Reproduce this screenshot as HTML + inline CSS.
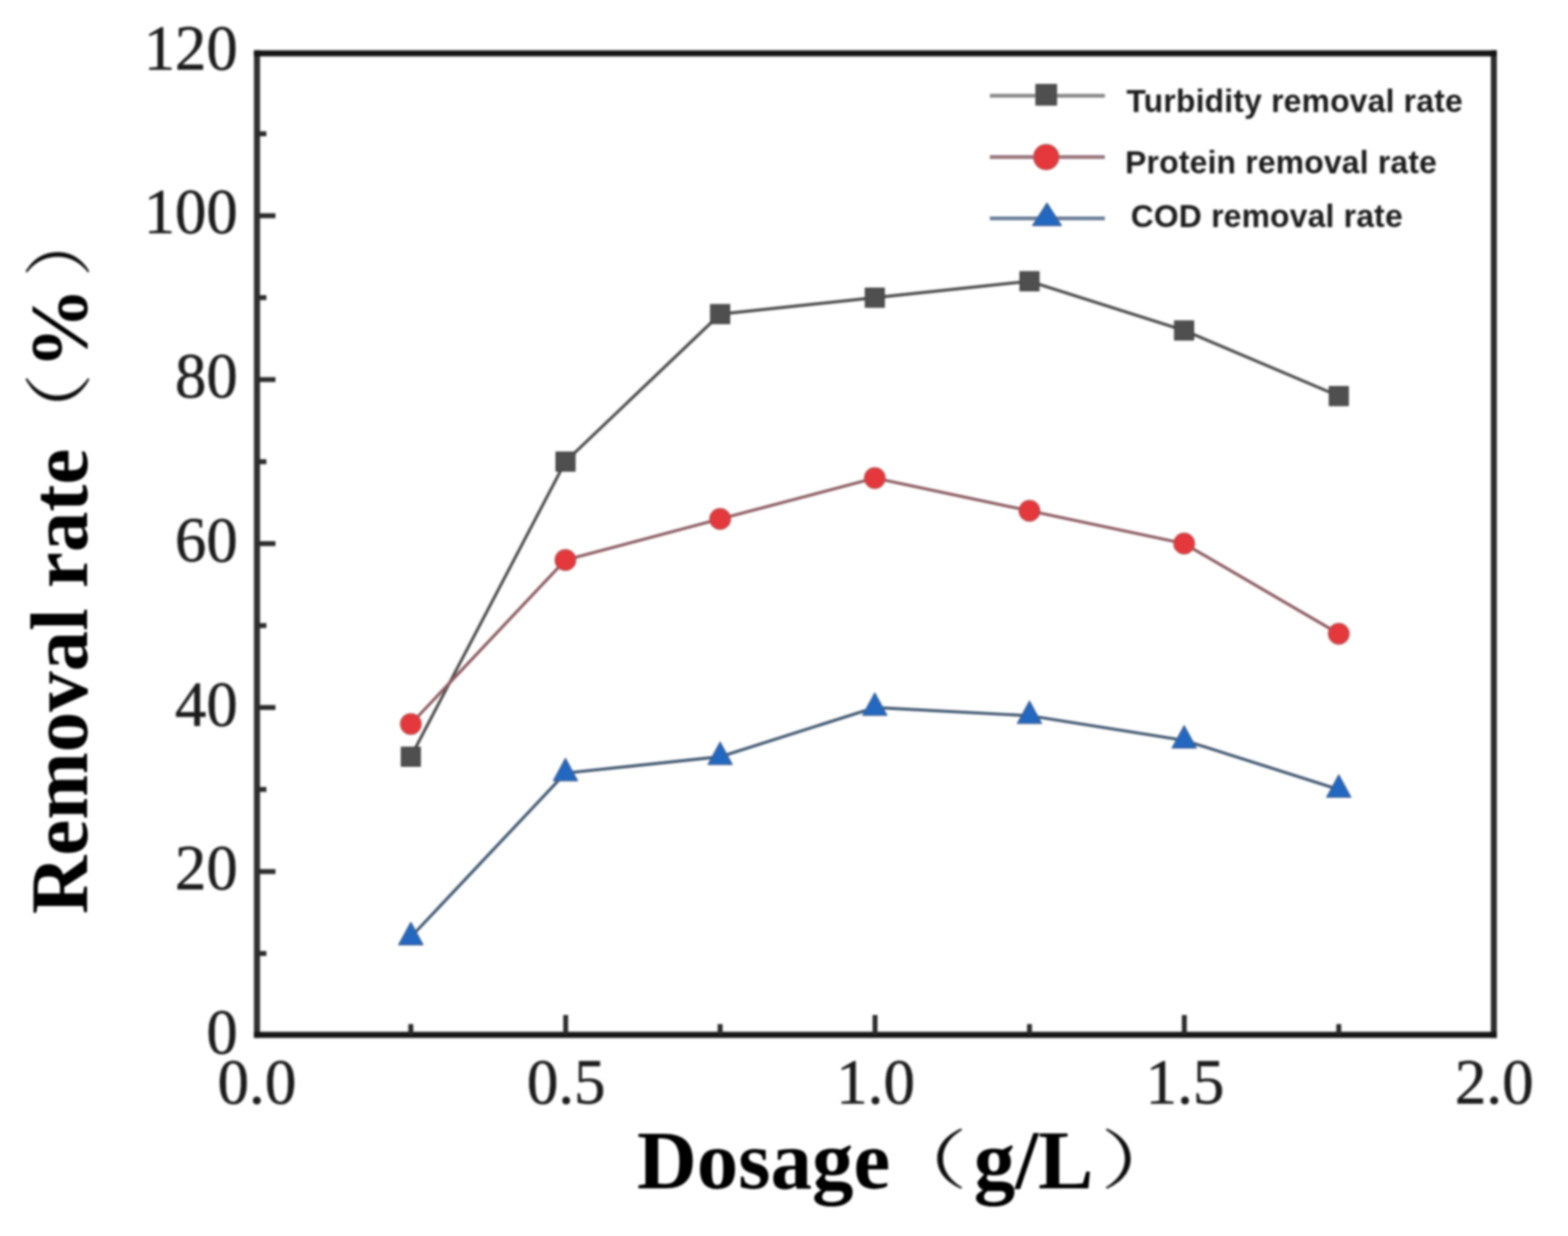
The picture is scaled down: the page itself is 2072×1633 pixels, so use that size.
<!DOCTYPE html>
<html><head><meta charset="utf-8"><title>Removal rate vs Dosage</title>
<style>
html,body{margin:0;padding:0;background:#fff;}
body{width:2072px;height:1633px;overflow:hidden;}
svg{display:block;}
.tick{font-family:"Liberation Serif","Noto Serif CJK SC",serif;font-size:84px;fill:#1e1e1e;stroke:#1e1e1e;stroke-width:0.7px;stroke-linejoin:round;}
.ttl{font-family:"Liberation Serif","Noto Serif CJK SC",serif;font-size:109.5px;font-weight:bold;fill:#050505;}
.cjk{font-family:"Noto Serif CJK SC","Liberation Serif",serif;font-weight:normal;font-size:88px;fill:#111;}
.leg{font-family:"Liberation Sans","Noto Sans CJK SC",sans-serif;font-size:42px;font-weight:bold;fill:#1c1c1c;letter-spacing:0.3px;}
.ttl2{font-size:107px;}
</style></head>
<body>
<svg width="2072" height="1633" viewBox="0 0 2072 1633">
<defs><filter id="soft" x="-5%" y="-5%" width="110%" height="110%"><feGaussianBlur stdDeviation="1.6"/></filter></defs>
<rect width="2072" height="1633" fill="#fff"/>
<g filter="url(#soft)">

<path d="M339.6 66.6V1371.3M1974.0 66.6V1371.3" stroke="#2e2e2e" stroke-width="8" fill="none"/>
<path d="M335.6 70.6H1978.0M335.6 1367.3H1978.0" stroke="#161616" stroke-width="8" fill="none"/>
<path d="M341 1151.4H364M341 934.8H364M341 718.2H364M341 501.6H364M341 285.0H364M341 1259.7H352M341 1043.1H352M341 826.5H352M341 609.9H352M341 393.3H352M341 176.7H352M747.5 1366V1341M1156.3 1366V1341M1565.0 1366V1341M542.9 1366V1353M951.6 1366V1353M1360.4 1366V1353M1769.1 1366V1353" stroke="#2b2b2b" stroke-width="6.5" fill="none"/>
<g class="tick" text-anchor="end">
<text transform="translate(314 1392.0) scale(0.985 1)">0</text>
<text transform="translate(314 1175.3) scale(0.985 1)">20</text>
<text transform="translate(314 958.5) scale(0.985 1)">40</text>
<text transform="translate(314 741.8) scale(0.985 1)">60</text>
<text transform="translate(314 525.0) scale(0.985 1)">80</text>
<text transform="translate(314 308.3) scale(0.985 1)">100</text>
<text transform="translate(314 91.5) scale(0.985 1)">120</text>
</g>
<g class="tick" text-anchor="middle">
<text transform="translate(339.5 1458) scale(0.99 1)">0.0</text>
<text transform="translate(748.2 1458) scale(0.99 1)">0.5</text>
<text transform="translate(1157.0 1458) scale(0.99 1)">1.0</text>
<text transform="translate(1565.8 1458) scale(0.99 1)">1.5</text>
<text transform="translate(1974.5 1458) scale(0.99 1)">2.0</text>
</g>
<text class="ttl" x="841.7" y="1570">Dosage</text>
<text class="ttl" x="1286.7" y="1570">g/L</text>
<text class="cjk" style="font-size:85px" transform="scale(1.36 1)" x="855.3" y="1563.5">（</text>
<text class="cjk" style="font-size:85px" transform="scale(1.36 1)" x="1068.9" y="1563.5">）</text>
<g transform="translate(115 1206) rotate(-90)">
<text class="ttl ttl2" x="-1.8" y="0">Removal rate</text>
<text class="ttl ttl2" x="719.0" y="0">%</text>
<text class="cjk" style="font-size:90px" transform="scale(1.17 1)" x="519.6" y="-5.5">（</text>
<text class="cjk" style="font-size:90px" transform="scale(1.05 1)" x="800.0" y="-5.5">）</text>
</g>
<polyline points="542.9,999.8 747.2,609.9 951.6,415.0 1156.0,393.3 1360.4,371.6 1564.8,436.6 1769.1,523.3" fill="none" stroke="#4a4a4a" stroke-width="3.9" stroke-linejoin="round"/>
<polyline points="542.9,956.5 747.2,739.9 951.6,685.7 1156.0,631.6 1360.4,674.9 1564.8,718.2 1769.1,837.3" fill="none" stroke="#8a5a60" stroke-width="3.9" stroke-linejoin="round"/>
<polyline points="542.9,1238.0 747.2,1021.4 951.6,999.8 1156.0,934.8 1360.4,945.6 1564.8,978.1 1769.1,1043.1" fill="none" stroke="#3f5670" stroke-width="3.9" stroke-linejoin="round"/>
<rect x="530.4" y="987.3" width="25" height="25" fill="#4f4f4f" stroke="#3c3c3c" stroke-width="1.5"/>
<rect x="734.8" y="597.4" width="25" height="25" fill="#4f4f4f" stroke="#3c3c3c" stroke-width="1.5"/>
<rect x="939.1" y="402.5" width="25" height="25" fill="#4f4f4f" stroke="#3c3c3c" stroke-width="1.5"/>
<rect x="1143.5" y="380.8" width="25" height="25" fill="#4f4f4f" stroke="#3c3c3c" stroke-width="1.5"/>
<rect x="1347.9" y="359.1" width="25" height="25" fill="#4f4f4f" stroke="#3c3c3c" stroke-width="1.5"/>
<rect x="1552.2" y="424.1" width="25" height="25" fill="#4f4f4f" stroke="#3c3c3c" stroke-width="1.5"/>
<rect x="1756.6" y="510.8" width="25" height="25" fill="#4f4f4f" stroke="#3c3c3c" stroke-width="1.5"/>
<circle cx="542.9" cy="956.5" r="13.6" fill="#e4393d" stroke="#b04848" stroke-width="1.5"/>
<circle cx="747.2" cy="739.9" r="13.6" fill="#e4393d" stroke="#b04848" stroke-width="1.5"/>
<circle cx="951.6" cy="685.7" r="13.6" fill="#e4393d" stroke="#b04848" stroke-width="1.5"/>
<circle cx="1156.0" cy="631.6" r="13.6" fill="#e4393d" stroke="#b04848" stroke-width="1.5"/>
<circle cx="1360.4" cy="674.9" r="13.6" fill="#e4393d" stroke="#b04848" stroke-width="1.5"/>
<circle cx="1564.8" cy="718.2" r="13.6" fill="#e4393d" stroke="#b04848" stroke-width="1.5"/>
<circle cx="1769.1" cy="837.3" r="13.6" fill="#e4393d" stroke="#b04848" stroke-width="1.5"/>
<polygon points="542.9,1218.7 558.9,1248.2 526.9,1248.2" fill="#2468c0" stroke="#3a5d8c" stroke-width="1.5" stroke-linejoin="round"/>
<polygon points="747.2,1002.1 763.2,1031.6 731.2,1031.6" fill="#2468c0" stroke="#3a5d8c" stroke-width="1.5" stroke-linejoin="round"/>
<polygon points="951.6,980.5 967.6,1010.0 935.6,1010.0" fill="#2468c0" stroke="#3a5d8c" stroke-width="1.5" stroke-linejoin="round"/>
<polygon points="1156.0,915.5 1172.0,945.0 1140.0,945.0" fill="#2468c0" stroke="#3a5d8c" stroke-width="1.5" stroke-linejoin="round"/>
<polygon points="1360.4,926.3 1376.4,955.8 1344.4,955.8" fill="#2468c0" stroke="#3a5d8c" stroke-width="1.5" stroke-linejoin="round"/>
<polygon points="1564.8,958.8 1580.8,988.3 1548.8,988.3" fill="#2468c0" stroke="#3a5d8c" stroke-width="1.5" stroke-linejoin="round"/>
<polygon points="1769.1,1023.8 1785.1,1053.3 1753.1,1053.3" fill="#2468c0" stroke="#3a5d8c" stroke-width="1.5" stroke-linejoin="round"/>
<path d="M1308 126.4H1460" stroke="#8a8a8a" stroke-width="5"/>
<rect x="1369.0" y="111.7" width="27" height="27" fill="#4f4f4f" stroke="#3c3c3c" stroke-width="1.5"/>
<path d="M1308 207.5H1460" stroke="#98767c" stroke-width="5"/>
<circle cx="1382.5" cy="207.5" r="16.5" fill="#e4393d" stroke="#b04848" stroke-width="1.5"/>
<path d="M1308 288.4H1460" stroke="#6a7e96" stroke-width="5"/>
<polygon points="1383.5,268.5 1402.5,298 1364.5,298" fill="#2468c0" stroke="#3a5d8c" stroke-width="1.5" stroke-linejoin="round"/>
<text class="leg" x="1488.5" y="148">Turbidity removal rate</text>
<text class="leg" x="1486.8" y="228.5">Protein removal rate</text>
<text class="leg" x="1494.2" y="300">COD removal rate</text>
</g>
</svg>
</body></html>
